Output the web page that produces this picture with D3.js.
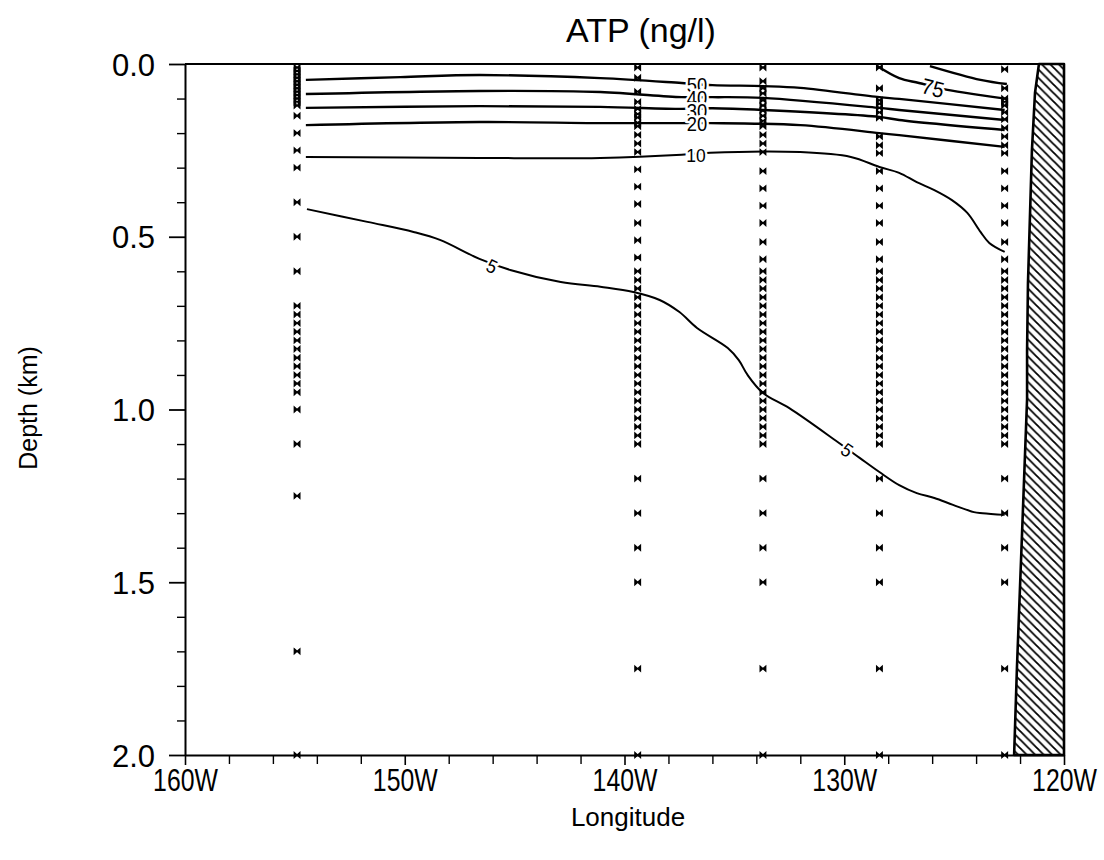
<!DOCTYPE html>
<html>
<head>
<meta charset="utf-8">
<script src="https://cdn.jsdelivr.net/npm/d3@7"></script>
<style>
  html, body { margin: 0; padding: 0; background: #fff; }
  svg { display: block; }
  text { font-family: "Liberation Sans", Arial, sans-serif; fill: #000; }
</style>
</head>
<body>
<svg id="chart" width="1104" height="860"></svg>
<script>
// ---------------- data ----------------
const chartTitle = "ATP (ng/l)";
const xLabel = "Longitude";
const yLabel = "Depth (km)";

const xMajorTicks = [160, 150, 140, 130, 120];            // degrees W
const xMinorTicks = [158, 156, 154, 152, 148, 146, 144, 142, 138, 136, 134, 132, 128, 126, 124, 122];
const yMajorTicks = [0.0, 0.5, 1.0, 1.5, 2.0];             // km
const yMinorTicks = [0.1, 0.2, 0.3, 0.4, 0.6, 0.7, 0.8, 0.9, 1.1, 1.2, 1.3, 1.4, 1.6, 1.7, 1.8, 1.9];

// sampling stations (longitude W) and their sample depths (km)
const stationLon = [154.9, 139.4, 133.7, 128.4, 122.7];
const station1Depths = [0.01, 0.02, 0.03, 0.04, 0.05, 0.06, 0.07, 0.08, 0.09, 0.10, 0.11, 0.12,
  0.15, 0.20, 0.25, 0.30, 0.40, 0.50, 0.60, 0.70, 0.725, 0.75, 0.775, 0.80, 0.825, 0.85, 0.875,
  0.90, 0.925, 0.95, 1.00, 1.10, 1.25, 1.70, 2.00];
const station2Depths = [0.01, 0.04, 0.08, 0.11, 0.13, 0.145, 0.155, 0.17, 0.18, 0.205, 0.23, 0.255,
  0.305, 0.355, 0.405, 0.46, 0.51, 0.56, 0.60, 0.625, 0.65, 0.675, 0.70, 0.725, 0.75, 0.775, 0.80,
  0.825, 0.85, 0.875, 0.90, 0.925, 0.95, 0.975, 1.00, 1.025, 1.05, 1.075, 1.10, 1.20, 1.30, 1.40,
  1.50, 1.75, 2.00];
const station3Depths = [0.01, 0.05, 0.07, 0.085, 0.105, 0.12, 0.135, 0.15, 0.165, 0.18, 0.205, 0.23,
  0.255, 0.31, 0.36, 0.41, 0.46, 0.515, 0.565, 0.60, 0.625, 0.65, 0.675, 0.70, 0.725, 0.75, 0.775,
  0.80, 0.825, 0.85, 0.875, 0.90, 0.925, 0.95, 0.975, 1.00, 1.025, 1.05, 1.075, 1.10, 1.20, 1.30,
  1.40, 1.50, 1.75, 2.00];
const station4Depths = [0.01, 0.07, 0.105, 0.115, 0.127, 0.14, 0.156, 0.21, 0.235, 0.258, 0.31, 0.36,
  0.41, 0.46, 0.515, 0.565, 0.60, 0.625, 0.65, 0.675, 0.70, 0.725, 0.75, 0.775, 0.80, 0.825, 0.85,
  0.875, 0.90, 0.925, 0.95, 0.975, 1.00, 1.025, 1.05, 1.075, 1.10, 1.20, 1.30, 1.40, 1.50, 1.75, 2.00];
const station5Depths = [0.015, 0.07, 0.10, 0.11, 0.12, 0.14, 0.16, 0.185, 0.21, 0.235, 0.258, 0.31,
  0.36, 0.41, 0.46, 0.515, 0.565, 0.60, 0.625, 0.65, 0.675, 0.70, 0.725, 0.75, 0.775, 0.80, 0.825,
  0.85, 0.875, 0.90, 0.925, 0.95, 0.975, 1.00, 1.025, 1.05, 1.075, 1.10, 1.20, 1.30, 1.40, 1.50,
  1.75, 2.00];
const stationDepths = [station1Depths, station2Depths, station3Depths, station4Depths, station5Depths];

// contour lines: [longitude W, depth km]
const contour100 = [[126.1, 0.006], [123.8, 0.046], [122.6, 0.058]];
const contour75 = [[128.5, 0.006], [127.5, 0.041], [126.6, 0.055], [125.3, 0.075], [123.8, 0.090], [122.6, 0.101]];
const contour50 = [[154.5, 0.046], [150.2, 0.038], [146.6, 0.032], [141.1, 0.041], [137.4, 0.055],
  [136.0, 0.061], [133.7, 0.064], [132.0, 0.069], [128.4, 0.096], [127.5, 0.101], [122.7, 0.133]];
const contour40 = [[154.5, 0.087], [146.6, 0.078], [141.1, 0.081], [137.4, 0.096], [136.0, 0.096],
  [133.7, 0.098], [128.4, 0.127], [127.5, 0.133], [122.7, 0.162]];
const contour30 = [[154.5, 0.127], [146.6, 0.122], [141.1, 0.124], [137.4, 0.130], [136.0, 0.128],
  [133.7, 0.133], [128.4, 0.153], [127.5, 0.162], [122.7, 0.191]];
const contour20 = [[154.5, 0.177], [146.6, 0.168], [141.1, 0.171], [137.4, 0.171], [136.1, 0.171],
  [132.0, 0.177], [128.4, 0.200], [127.5, 0.206], [122.7, 0.240]];
const contour10 = [[154.5, 0.269], [146.6, 0.272], [141.1, 0.272], [137.4, 0.263], [136.1, 0.257],
  [132.0, 0.255], [129.7, 0.269], [128.4, 0.298], [127.5, 0.315], [126.7, 0.342], [125.9, 0.365],
  [125.1, 0.394], [124.4, 0.431], [123.8, 0.486], [123.4, 0.518], [122.7, 0.544]];
const contour5 = [[154.45, 0.420], [151.7, 0.457], [149.6, 0.486], [148.4, 0.509], [146.6, 0.564],
  [145.2, 0.596], [142.9, 0.631], [141.1, 0.645], [139.6, 0.660], [138.4, 0.683], [137.5, 0.718],
  [136.7, 0.764], [135.3, 0.822], [134.8, 0.857], [134.4, 0.900], [133.7, 0.952], [132.5, 0.996],
  [130.3, 1.094], [129.3, 1.140], [128.4, 1.181], [127.5, 1.219], [126.7, 1.242], [125.9, 1.256],
  [125.05, 1.276], [124.1, 1.297], [123.7, 1.300], [122.7, 1.305]];
const contours = [contour100, contour75, contour50, contour40, contour30, contour20, contour10, contour5];

// contour labels: text, longitude W, depth km, rotation (deg)
const labelText = ["50", "40", "30", "20", "10", "75", "5", "5"];
const labelLon = [136.7, 136.7, 136.7, 136.7, 136.75, 125.96, 146.03, 129.87];
const labelDepth = [0.060, 0.097, 0.134, 0.174, 0.263, 0.069, 0.585, 1.117];
const labelAngle = [0, 0, 0, 0, 0, 14, 25, 35];

// coastline (left edge of land, hatched)
const coastLine = [[121.14, 0.0], [121.32, 0.084], [121.46, 0.25], [121.64, 0.635], [121.68, 0.83],
  [121.68, 0.97], [121.91, 1.36], [122.14, 1.745], [122.27, 2.0]];

// ---------------- drawing ----------------
const svg = d3.select("#chart");
const x = d3.scaleLinear().domain([160, 120]).range([185, 1064]);
const y = d3.scaleLinear().domain([0, 2]).range([64, 755]);

// hatch pattern
const defs = svg.append("defs");
defs.append("pattern")
  .attr("id", "hatch").attr("patternUnits", "userSpaceOnUse")
  .attr("width", 8.5).attr("height", 8.5)
  .append("path")
  .attr("d", "M0,0L8.5,8.5M-2,6.5L2,10.5M6.5,-2L10.5,2")
  .attr("stroke", "#000").attr("stroke-width", 1.8);

// land polygon
const landPts = coastLine.concat([[120, 2.0], [120, 0.0]]);
svg.append("path")
  .attr("d", d3.line().x(d => x(d[0])).y(d => y(d[1])).curve(d3.curveLinear)(landPts) + "Z")
  .attr("fill", "url(#hatch)")
  .attr("stroke", "#000").attr("stroke-width", 2.6).attr("stroke-linejoin", "round");

// axes
const gx = svg.append("g").attr("transform", `translate(0,${y(2)})`);
gx.call(d3.axisBottom(x).tickValues(xMinorTicks).tickSize(9).tickSizeOuter(0).tickFormat(""));
gx.select(".domain").attr("stroke-width", 2);
gx.selectAll("line").attr("stroke-width", 1.4);
const gx2 = svg.append("g").attr("transform", `translate(0,${y(2)})`);
gx2.call(d3.axisBottom(x).tickValues(xMajorTicks).tickSize(10).tickSizeOuter(0).tickFormat(d => d + "W"));
gx2.select(".domain").remove();
gx2.selectAll("line").attr("stroke-width", 1.6);
gx2.selectAll("text").attr("font-size", 31)
  .attr("y", 0).attr("dy", 0).attr("transform", "translate(0,36) scale(0.8,1)");

const gy = svg.append("g").attr("transform", `translate(${x(160)},0)`);
gy.call(d3.axisLeft(y).tickValues(yMinorTicks).tickSize(8).tickSizeOuter(0).tickFormat(""));
gy.select(".domain").attr("stroke-width", 2);
gy.selectAll("line").attr("stroke-width", 1.4);
const gy2 = svg.append("g").attr("transform", `translate(${x(160)},0)`);
gy2.call(d3.axisLeft(y).tickValues(yMajorTicks).tickSize(16).tickSizeOuter(0).tickFormat(d3.format(".1f")));
gy2.select(".domain").remove();
gy2.selectAll("line").attr("stroke-width", 1.8);
gy2.selectAll("text").attr("font-size", 31).attr("x", -30).attr("dy", "0.36em");

// top border
svg.append("line")
  .attr("x1", x(160)).attr("x2", x(coastLine[0][0]))
  .attr("y1", y(0)).attr("y2", y(0))
  .attr("stroke", "#000").attr("stroke-width", 2);

// contours
const line = d3.line().x(d => x(d[0])).y(d => y(d[1])).curve(d3.curveCatmullRom.alpha(0.5));
svg.append("g").selectAll("path").data(contours).join("path")
  .attr("d", line)
  .attr("fill", "none").attr("stroke", "#000")
  .attr("stroke-width", (d, i) => i >= 6 ? 2 : 2.4)
  .attr("stroke-linejoin", "round");

// station markers (bow-tie crosses)
const markerPts = [];
stationLon.forEach((lon, i) => stationDepths[i].forEach(dep => markerPts.push([lon, dep])));
svg.append("g").selectAll("path").data(markerPts).join("path")
  .attr("transform", d => `translate(${x(d[0])},${y(d[1])})`)
  .attr("d", "M-2.8,-2.5L2.8,2.5L2.8,-2.5L-2.8,2.5Z")
  .attr("fill", "#000").attr("stroke", "#000").attr("stroke-width", 1.3);

// contour labels with white halo
svg.append("g").selectAll("text").data(labelText).join("text")
  .attr("transform", (d, i) => `translate(${x(labelLon[i])},${y(labelDepth[i])}) rotate(${labelAngle[i]}) scale(0.92,1)`)
  .attr("text-anchor", "middle").attr("dy", "0.36em")
  .attr("font-size", (d, i) => i < 4 ? 20 : (i === 5 ? 22 : 19))
  .attr("stroke", "#fff").attr("stroke-width", 5).attr("paint-order", "stroke")
  .text(d => d);

// titles
svg.append("text").attr("x", 641).attr("y", 42).attr("text-anchor", "middle")
  .attr("font-size", 34).text(chartTitle);
svg.append("text").attr("x", 628).attr("y", 826).attr("text-anchor", "middle")
  .attr("font-size", 26).text(xLabel);
svg.append("text").attr("transform", "translate(37,408) rotate(-90)").attr("text-anchor", "middle")
  .attr("font-size", 25).text(yLabel);
</script>
</body>
</html>
